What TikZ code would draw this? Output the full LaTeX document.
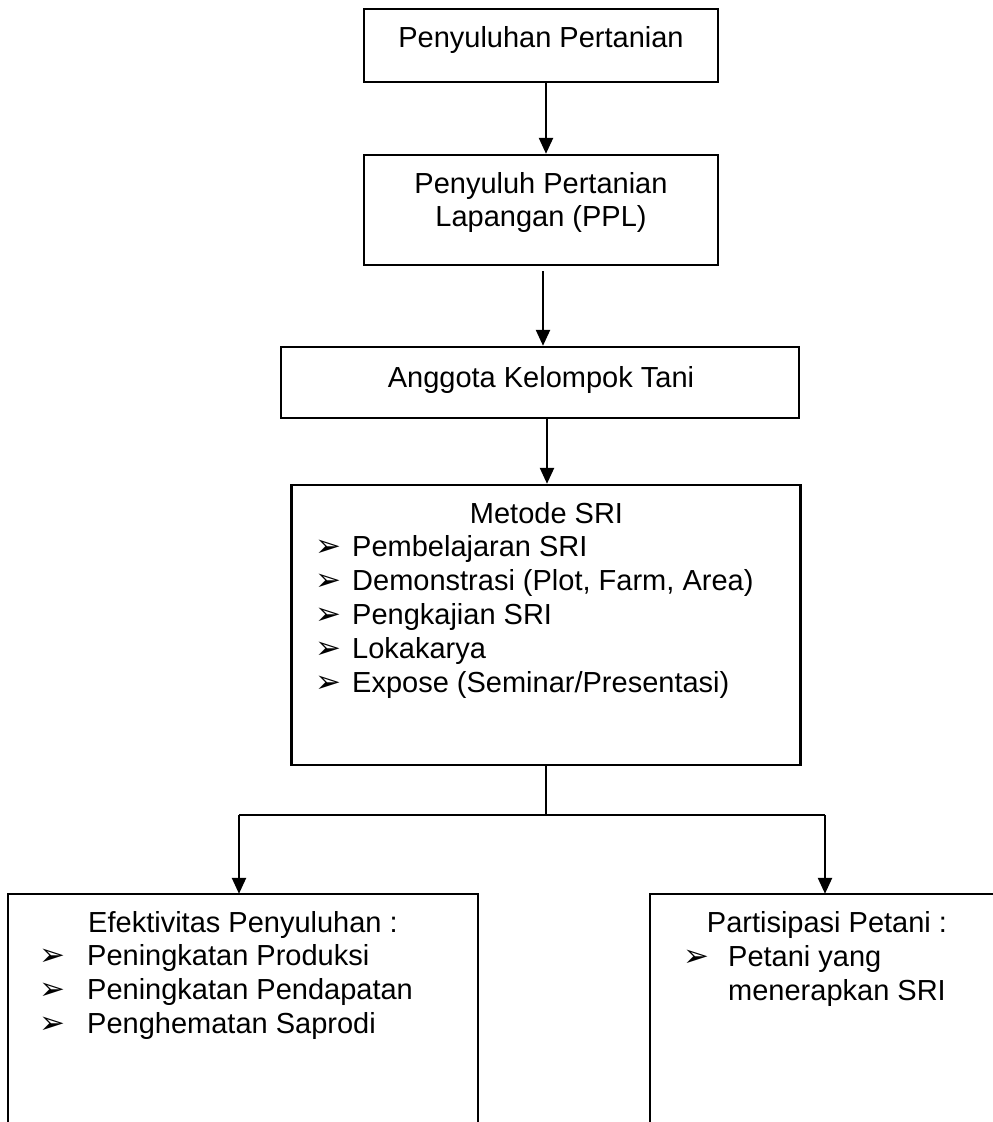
\documentclass[tikz,border=0pt]{standalone}
\usepackage{fontspec}
\setmainfont{Liberation Sans}
\newfontfamily\bulletfont{DejaVu Sans}
\usetikzlibrary{arrows.meta}

\tikzset{
  box/.style={draw, line width=2.4pt, inner sep=0pt},
  frame/.style={line width=2.4pt},
  txt/.style={anchor=base, inner sep=0pt, font=\fontsize{29}{33}\selectfont},
  item/.style={anchor=base west, inner sep=0pt, font=\fontsize{29}{33}\selectfont},
  arr/.style={line width=2.4pt, -{Triangle[length=16pt,width=14pt]}},
}
\newcommand{\bul}[1][37pt]{\makebox[#1][l]{\bulletfont\fontsize{31}{31}\selectfont ➢}}

\begin{document}
\begin{tikzpicture}[x=1pt,y=-1pt]
    \useasboundingbox (0,0) rectangle (993,1122);
    % kotak atas
    \node[box, minimum width=354, minimum height=73] (penyuluhan) at (541,45.5) {};
    \node[txt] (penyuluhan-t) at (541,47) {Penyuluhan Pertanian};
    \node[box, minimum width=354, minimum height=110] (ppl) at (541,210) {};
    \node[txt] (ppl-t1) at (541,193) {Penyuluh Pertanian};
    \node[txt] (ppl-t2) at (541,226) {Lapangan (PPL)};
    \node[box, minimum width=518, minimum height=71] (kelompok) at (540,382.5) {};
    \node[txt] (kelompok-t) at (541,387) {Anggota Kelompok Tani};
    % metode SRI
    \node[box, minimum width=509, minimum height=280] (metode) at (546,625) {};
    \node[txt] (metode-t) at (546.5,523) {Metode SRI};
    \foreach \t [count=\i] in {Pembelajaran SRI, {Demonstrasi (Plot, Farm, Area)},
                               Pengkajian SRI, Lokakarya, {Expose (Seminar/Presentasi)}}
        \node[item] (metode-\i) at (315,522+34*\i) {\bul\t};
    % kotak bawah (terbuka)
    \node[minimum width=470, minimum height=228, inner sep=0pt] (efektif) at (243,1008) {};
    \draw[frame] (efektif.south west) -- (efektif.north west) --
                 (efektif.north east) -- (efektif.south east);
    \node[txt] (efektif-t) at (243,932) {Efektivitas Penyuluhan :};
    \foreach \t [count=\i] in {Peningkatan Produksi, Peningkatan Pendapatan, Penghematan Saprodi}
        \node[item] (efektif-\i) at (39,932+33.7*\i) {\bul[48pt]\t};
    \node[minimum width=345, minimum height=228, inner sep=0pt] (partisipasi) at (822.5,1008) {};
    \draw[frame] (partisipasi.south west) -- (partisipasi.north west) --
                 (partisipasi.north east);
    \node[txt] (partisipasi-t) at (827,932) {Partisipasi Petani :};
    \node[item] (partisipasi-1) at (683,966) {\bul[45pt]Petani yang};
    \node[item] (partisipasi-2) at (728,1000) {menerapkan SRI};
    % panah
    \draw[arr] ([xshift=5]penyuluhan.south) -- ([xshift=5]ppl.north);
    \draw[arr] ([xshift=2,yshift=-5]ppl.south) -- ([xshift=2]ppl.south |- kelompok.north);
    \draw[arr] ([xshift=7]kelompok.south) -- ([xshift=7]kelompok.south |- metode.north);
    \coordinate (cabang) at (546,815);
    \coordinate (cabang-l) at (239,815);
    \coordinate (cabang-r) at (825,815);
    \draw[frame] (metode.south) -- (cabang);
    \draw[frame] (cabang-l) -- (cabang-r);
    \draw[arr] (cabang-l) -- (cabang-l |- efektif.north);
    \draw[arr] (cabang-r) -- (cabang-r |- partisipasi.north);
\end{tikzpicture}
\end{document}
